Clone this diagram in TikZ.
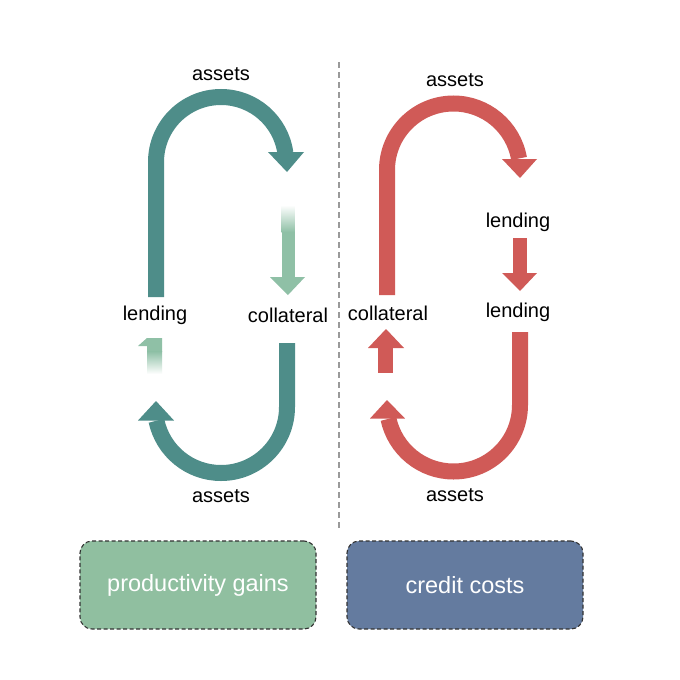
\documentclass[tikz,border=0pt]{standalone}
\usepackage{fontspec}
\setmainfont{Liberation Sans}
\begin{document}
\begin{tikzpicture}[x=1pt,y=-1pt,
  lbl/.style={font=\fontsize{20}{23}\selectfont, text=black, inner sep=1pt},
  boxtxt/.style={font=\fontsize{23.5}{27}\selectfont, text=white},
  flow/.style={line width=16pt},
  box/.style={draw=black!80, dashed, dash pattern=on 4pt off 2.5pt, line width=1.1pt, rounded corners=12pt, minimum width=236pt, minimum height=88pt}]
\definecolor{tealc}{HTML}{4E8D89}
\definecolor{lgreen}{HTML}{8FC0A6}
\definecolor{redc}{HTML}{D05A57}
\definecolor{boxgreen}{HTML}{90BFA0}
\definecolor{boxblue}{HTML}{647B9F}
\definecolor{divgray}{HTML}{9A9A9A}
\useasboundingbox (0,0) rectangle (680,680);
\fill[white] (0,0) rectangle (680,680);

% divider
\coordinate (dtop) at (339,62);
\coordinate (dbot) at (339,528);
\draw[divgray, line width=2.5pt, dash pattern=on 6pt off 4pt] (dtop) -- (dbot);

% ---------- left (teal) ----------
\draw[flow, tealc] (156,297) -- (156,162) arc[start angle=180, end angle=352, radius=65];
\fill[tealc] (268,152) -- (304,152) -- (287,172) -- cycle;

\draw[flow, tealc] (287,343) -- (287,407) arc[start angle=0, end angle=168, radius=66];
\fill[tealc] (138,420.5) -- (174,420.5) -- (156,401) -- cycle;

% faded light green down arrow
\shade[top color=white, bottom color=lgreen] (281.5,205) rectangle (294.5,232);
\fill[lgreen] (281.5,231.5) rectangle (294.5,278);
\fill[lgreen] (270,277) -- (305,277) -- (288,295) -- cycle;

% faded partial up arrow
\fill[lgreen] (138,346) -- (147,338) -- (162,338) -- (162,352) -- (147,352) -- (147,346) -- cycle;
\shade[top color=lgreen, bottom color=white] (147,351.5) rectangle (162,374);

\node[lbl] (tla) at (221,74) {assets};
\node[lbl] (tll) at (155,315) {lending};
\node[lbl] (tlc) at (288,315) {collateral};
\node[lbl] (tba) at (221,496) {assets};

% ---------- right (red) ----------
\draw[flow, redc] (387,295) -- (387,170) arc[start angle=180, end angle=350, radius=66.5];
\fill[redc] (502,159) -- (537,159) -- (520,178) -- cycle;

\draw[flow, redc] (520,332) -- (520,405) arc[start angle=0, end angle=168, radius=66.5];
\fill[redc] (370,418.5) -- (405,418.5) -- (387,400) -- cycle;

% small red arrows
\fill[redc] (513,238) rectangle (527,274);
\fill[redc] (502,273) -- (537,273) -- (520,291) -- cycle;
\fill[redc] (378,373) rectangle (393,347);
\fill[redc] (368,348) -- (404,348) -- (386,329) -- cycle;

\node[lbl] (ra) at (455,80) {assets};
\node[lbl] (rl1) at (518,222) {lending};
\node[lbl] (rc) at (388,313) {collateral};
\node[lbl] (rl2) at (518,312) {lending};
\node[lbl] (rba) at (455,495) {assets};

% ---------- boxes ----------
\node[box, fill=boxgreen, boxtxt] (pg) at (198,585) {productivity gains};
\node[box, fill=boxblue, boxtxt] (cc) at (465,585) {credit costs};
\end{tikzpicture}
\end{document}
